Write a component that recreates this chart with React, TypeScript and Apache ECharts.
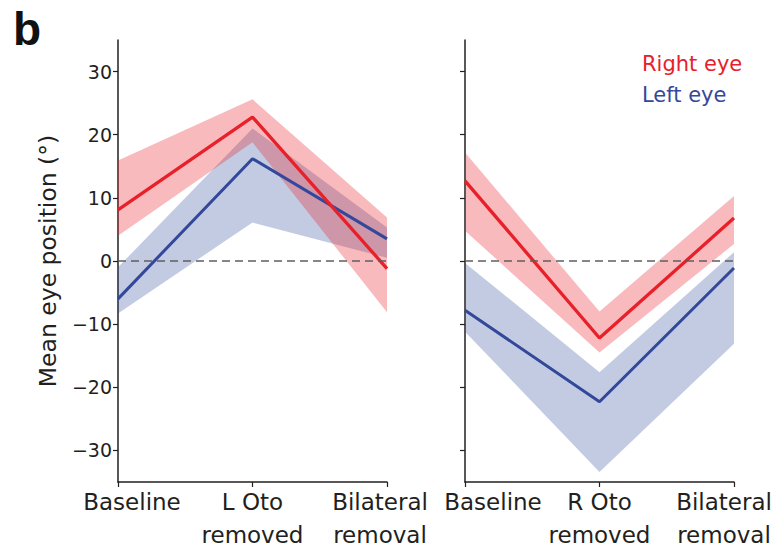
import React, { useEffect, useRef } from "react";
import * as echarts from "echarts";

const categoriesLeft = ["Baseline", "L Oto\nremoved", "Bilateral\nremoval"];
const categoriesRight = ["Baseline", "R Oto\nremoved", "Bilateral\nremoval"];

// Left panel (L Oto removed)
const lRightEye = [8.1, 22.8, -1.2];
const lRightEyeUpper = [15.9, 25.6, 6.9];
const lRightEyeLower = [4.0, 18.8, -8.1];
const lLeftEye = [-6.0, 16.2, 3.5];
const lLeftEyeUpper = [-1.0, 21.0, 5.3];
const lLeftEyeLower = [-8.3, 6.1, 0.5];

// Right panel (R Oto removed)
const rRightEye = [12.7, -12.2, 6.8];
const rRightEyeUpper = [17.2, -8.0, 10.3];
const rRightEyeLower = [4.8, -14.5, 2.7];
const rLeftEye = [-7.8, -22.3, -1.1];
const rLeftEyeUpper = [-0.3, -17.6, 1.4];
const rLeftEyeLower = [-11.2, -33.4, -13.1];

const yTicks = [-30, -20, -10, 0, 10, 20, 30];

const RED = "#e8202a";
const BLUE = "#33489b";
const RED_BAND = "rgba(232,32,42,0.31)";
const BLUE_BAND = "rgba(47,75,156,0.29)";
const INK = "#231f20";
const FONT = "DejaVu Sans";

function bandSeries(idx: number, key: string, lower: number[], upper: number[], color: string, z: number) {
  return [
    {
      type: "line",
      name: key + "-low",
      xAxisIndex: idx,
      yAxisIndex: idx,
      stack: key,
      stackStrategy: "all",
      data: lower,
      symbol: "none",
      lineStyle: { opacity: 0 },
      silent: true,
      z,
    },
    {
      type: "line",
      name: key + "-band",
      xAxisIndex: idx,
      yAxisIndex: idx,
      stack: key,
      stackStrategy: "all",
      data: upper.map((u, i) => +(u - lower[i]).toFixed(3)),
      symbol: "none",
      lineStyle: { opacity: 0 },
      areaStyle: { color, opacity: 1 },
      silent: true,
      z,
    },
  ];
}

function lineSeries(idx: number, name: string, data: number[], color: string, width: number, z: number, withZero: boolean) {
  const s: any = {
    type: "line",
    name,
    xAxisIndex: idx,
    yAxisIndex: idx,
    data,
    symbol: "none",
    lineStyle: { color, width },
    itemStyle: { color },
    z,
  };
  if (withZero) {
    s.markLine = {
      silent: true,
      symbol: ["none", "none"],
      label: { show: false },
      lineStyle: { type: [8, 5], color: "#5f5f5f", width: 1.5 },
      data: [{ yAxis: 0 }],
    };
  }
  return s;
}

function xAxis(idx: number, cats: string[], padFirst: number, padLast: number) {
  return {
    type: "category",
    gridIndex: idx,
    data: cats,
    boundaryGap: false,
    axisLine: { onZero: false, lineStyle: { color: INK, width: 1.5 } },
    axisTick: { show: true, length: 5, lineStyle: { color: INK, width: 1.2 }, alignWithLabel: true, interval: 0 },
    axisLabel: {
      interval: 0,
      margin: 3,
      color: INK,
      fontFamily: FONT,
      fontSize: 23,
      lineHeight: 33,
      hideOverlap: false,
      formatter: (value: string, index: number) =>
        value
          .split("\n")
          .map((line) => `{s${index}|${line}}`)
          .join("\n"),
      rich: {
        s0: { fontFamily: FONT, fontSize: 23, lineHeight: 33, color: INK, padding: [0, 0, 0, padFirst] },
        s1: { fontFamily: FONT, fontSize: 23, lineHeight: 33, color: INK },
        s2: { fontFamily: FONT, fontSize: 23, lineHeight: 33, color: INK, padding: [0, padLast, 0, 0] },
      },
    },
    splitLine: { show: false },
  };
}

function yAxis(idx: number, showLabels: boolean) {
  const a: any = {
    type: "value",
    gridIndex: idx,
    min: -35,
    max: 35,
    axisLine: { show: true, onZero: false, lineStyle: { color: INK, width: 1.5 } },
    axisTick: { show: true, length: 5, customValues: yTicks, lineStyle: { color: INK, width: 1.2 } },
    axisLabel: {
      show: showLabels,
      customValues: yTicks,
      margin: 6,
      color: INK,
      fontFamily: FONT,
      fontSize: 19,
      formatter: (v: number) => (v < 0 ? "\u2212" + Math.abs(v) : String(v)),
    },
    splitLine: { show: false },
  };
  if (showLabels) {
    a.name = "Mean eye position (\u00b0)";
    a.nameLocation = "middle";
    a.nameGap = 58;
    a.nameRotate = 90;
    a.nameTextStyle = { color: INK, fontFamily: FONT, fontSize: 23.5 };
  }
  return a;
}

export default function App() {
  const ref = useRef<HTMLDivElement>(null);
  useEffect(() => {
    if (!ref.current) return;
    const chart = echarts.init(ref.current, null, { renderer: "svg" });
    chart.setOption({
      animation: false,
      backgroundColor: "#ffffff",
      title: {
        text: "b",
        left: 8,
        top: 1,
        textStyle: { fontFamily: "Liberation Sans", fontWeight: "bold", fontSize: 46, color: "#111" },
      },
      legend: {
        orient: "vertical",
        left: 632,
        top: 48,
        itemWidth: 0,
        itemHeight: 0,
        itemGap: 10,
        icon: "rect",
        selectedMode: false,
        data: [
          { name: "Right eye", textStyle: { color: RED } },
          { name: "Left eye", textStyle: { color: BLUE } },
        ],
        textStyle: { fontFamily: FONT, fontSize: 21 },
      },
      grid: [
        { left: 118, top: 40, width: 269, height: 442, outerBoundsMode: "none", containLabel: false },
        { left: 465, top: 40, width: 269, height: 442, outerBoundsMode: "none", containLabel: false },
      ],
      xAxis: [xAxis(0, categoriesLeft, 28, 14), xAxis(1, categoriesRight, 56, 20)],
      yAxis: [yAxis(0, true), yAxis(1, false)],
      series: [
        ...bandSeries(0, "lb", lLeftEyeLower, lLeftEyeUpper, BLUE_BAND, 1),
        ...bandSeries(0, "lr", lRightEyeLower, lRightEyeUpper, RED_BAND, 2),
        lineSeries(0, "Left eye", lLeftEye, BLUE, 3, 3, true),
        lineSeries(0, "Right eye", lRightEye, RED, 3.3, 4, false),
        ...bandSeries(1, "rb", rLeftEyeLower, rLeftEyeUpper, BLUE_BAND, 1),
        ...bandSeries(1, "rr", rRightEyeLower, rRightEyeUpper, RED_BAND, 2),
        lineSeries(1, "Left eye", rLeftEye, BLUE, 3, 3, true),
        lineSeries(1, "Right eye", rRightEye, RED, 3.3, 4, false),
      ],
    });
    return () => chart.dispose();
  }, []);
  return <div ref={ref} style={{ width: 776, height: 551, position: "absolute", left: 0, top: 0 }} />;
}
